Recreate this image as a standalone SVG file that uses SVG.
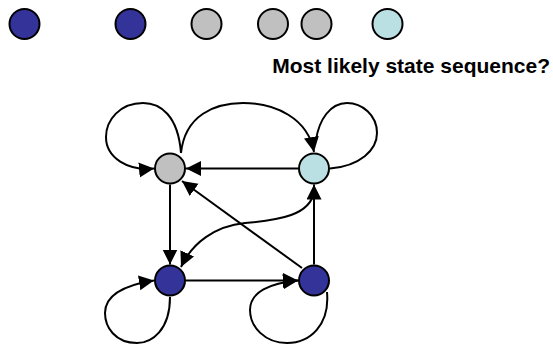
<svg xmlns="http://www.w3.org/2000/svg" width="553" height="345" viewBox="0 0 553 345">
<defs>
<style>
.n{stroke:#000;stroke-width:2}
.blue{fill:#333399}
.gray{fill:#C0C0C0}
.cyan{fill:#BBE0E3}
.e{fill:none;stroke:#000;stroke-width:2}
.t{font-family:"Liberation Sans",Arial,sans-serif;font-weight:bold;font-size:21px;fill:#000}
</style>
<marker id="ah" markerUnits="userSpaceOnUse" markerWidth="16" markerHeight="16" refX="15" refY="7.5" orient="auto" viewBox="0 0 16 16">
<path d="M0,0 L15,7.5 L0,15 z" fill="#000"/>
</marker>
</defs>
<g id="sequence">
<circle id="s1" class="n blue" cx="24.5" cy="24" r="15"/>
<circle id="s2" class="n blue" cx="130.5" cy="24" r="15"/>
<circle id="s3" class="n gray" cx="206.5" cy="24" r="15"/>
<circle id="s4" class="n gray" cx="273" cy="24" r="15"/>
<circle id="s5" class="n gray" cx="316.5" cy="24" r="15"/>
<circle id="s6" class="n cyan" cx="387.5" cy="24" r="15"/>
</g>
<text class="t" x="550" y="72.5" text-anchor="end">Most likely state sequence?</text>
<g id="connectors">
<path class="e" d="M298,168.5 L186,168.5" marker-end="url(#ah)"/>
<path class="e" d="M181,153 C178,115 160,103 143,103 C120,103 106,120 106,137 C106,158 128,171 154,168.5" marker-end="url(#ah)"/>
<path class="e" d="M181,153 C185,115 215,103 243,103 C275,103 308,118 314,152" marker-end="url(#ah)"/>
<path class="e" d="M330,168.5 C360,166 377,150 377,133 C377,115 362,103 347,103 C330,103 319,120 316,140"/>
<path class="e" d="M170,184.5 L170,264.5" marker-end="url(#ah)"/>
<path class="e" d="M302,268 L182,181" marker-end="url(#ah)"/>
<path class="e" d="M314,264.5 L314,184.5" marker-end="url(#ah)"/>
<path class="e" d="M314,192 C310,215 280,220 245,223 C215,226 192,243 181,267" marker-end="url(#ah)"/>
<path class="e" d="M186,280.5 L298,280.5" marker-end="url(#ah)"/>
<path class="e" d="M170,297 C170,330 152,343 137,343 C115,343 105,327 105,313 C105,295 125,285 154,280.5" marker-end="url(#ah)"/>
<path class="e" d="M327,292 C330,325 310,343 287,343 C265,343 250,327 250,310 C250,292 270,283 298,280.5" marker-end="url(#ah)"/>
</g>
<g id="gray-node"><circle class="n gray" cx="170" cy="168.5" r="15"/></g>
<g id="cyan-node"><circle class="n cyan" cx="314" cy="168.5" r="15"/></g>
<g id="blue-left-node"><circle class="n blue" cx="170" cy="280.5" r="15"/></g>
<g id="blue-right-node"><circle class="n blue" cx="314" cy="280.5" r="15"/></g>
</svg>
